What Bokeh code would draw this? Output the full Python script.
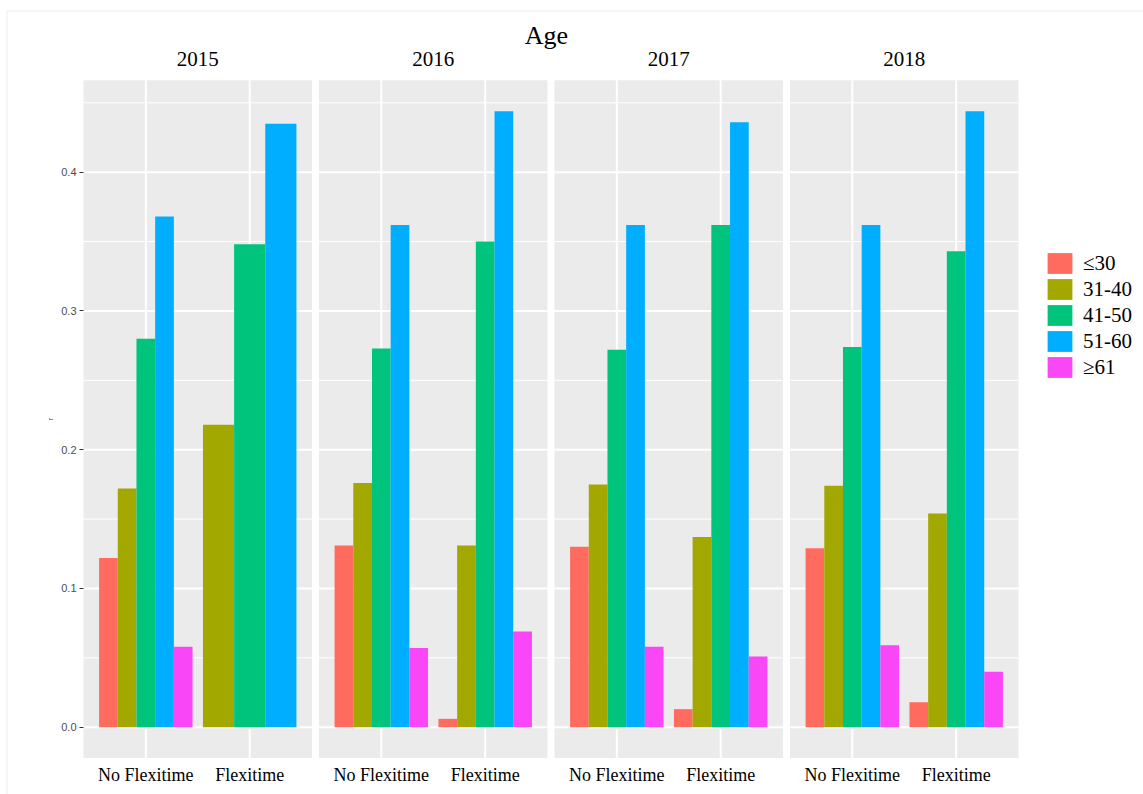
import math
from bokeh.plotting import figure
from bokeh.models import (ColumnDataSource, LinearAxis, FixedTicker, Legend,
                          LegendItem, BoxAnnotation, Range1d)
from bokeh.core.properties import value
from bokeh.embed import file_html
from bokeh.resources import INLINE

# ---------------------------------------------------------------- data
years = ["2015", "2016", "2017", "2018"]
conditions = ["No Flexitime", "Flexitime"]
age_groups = ["≤30", "31-40", "41-50", "51-60", "≥61"]

# r per age group, ordered year by year: [No Flexitime, Flexitime] x 4 years
# (None = group absent in that cell)
r_le30 = [0.122, None, 0.131, 0.006, 0.130, 0.013, 0.129, 0.018]
r_31_40 = [0.172, 0.218, 0.176, 0.131, 0.175, 0.137, 0.174, 0.154]
r_41_50 = [0.280, 0.348, 0.273, 0.350, 0.272, 0.362, 0.274, 0.343]
r_51_60 = [0.368, 0.435, 0.362, 0.444, 0.362, 0.436, 0.362, 0.444]
r_ge61 = [0.058, None, 0.057, 0.069, 0.058, 0.051, 0.059, 0.040]
series = [r_le30, r_31_40, r_41_50, r_51_60, r_ge61]

y_ticks = [0.0, 0.1, 0.2, 0.3, 0.4]
y_tick_labels = ["0.0", "0.1", "0.2", "0.3", "0.4"]
y_minor = [0.05, 0.15, 0.25, 0.35, 0.45]

colors = ["#FF6B5E", "#A2A800", "#00C47C", "#00AEFF", "#F946F6"]

# ---------------------------------------------------------------- layout
W, H = 1143, 794
PANEL_LEFT_PX = 83.0
PANEL_W_PX = 228.5
GAP_PX = 7.0
X_PAD = 0.6                     # discrete-scale expansion on each side
DODGE = 0.9                     # total dodge width per category
PX = PANEL_W_PX / (len(conditions) - 1 + 2 * X_PAD)   # px per x unit
ZERO_PX = 726.7                 # screen y of r = 0
PY = 1387.5                     # px per unit of r


def xd(px):
    return (px - PANEL_LEFT_PX) / PX


def yd(py):
    return (ZERO_PX - py) / PY


panel_span = len(conditions) - 1 + 2 * X_PAD
gap = GAP_PX / PX
panel_left = [i * (panel_span + gap) for i in range(len(years))]

all_vals = [v for s in series for v in s if v is not None]
r_max = max(all_vals)
y_lo = -0.05 * r_max
y_hi = r_max + 0.05 * r_max

p = figure(width=W, height=H, output_backend="svg", toolbar_location=None,
           title_location=None, x_axis_location=None, y_axis_location=None,
           x_range=Range1d(xd(0), xd(W)), y_range=Range1d(yd(H), yd(0)),
           min_border_left=0, min_border_right=0, min_border_top=0,
           min_border_bottom=0)
p.grid.visible = False
p.outline_line_color = None
p.background_fill_color = "white"
p.border_fill_color = "white"

# panel backgrounds
p.quad(left=panel_left, right=[l + panel_span for l in panel_left],
       bottom=[y_lo] * len(years), top=[y_hi] * len(years),
       fill_color="#EBEBEB", line_color=None)

# grid lines inside each panel
gx0, gx1, gy0, gy1 = [], [], [], []
for l in panel_left:
    for v in y_minor:
        if v < y_hi:
            gx0.append(l); gx1.append(l + panel_span); gy0.append(v); gy1.append(v)
p.segment(x0=gx0, x1=gx1, y0=gy0, y1=gy1, line_color="white", line_width=1)

mx0, mx1, my0, my1 = [], [], [], []
for l in panel_left:
    for v in y_ticks:
        mx0.append(l); mx1.append(l + panel_span); my0.append(v); my1.append(v)
    for j in range(len(conditions)):
        c = l + X_PAD + j
        mx0.append(c); mx1.append(c); my0.append(y_lo); my1.append(y_hi)
p.segment(x0=mx0, x1=mx1, y0=my0, y1=my1, line_color="white", line_width=2)

# dodged bars
bar_data = {g: {"x": [], "top": [], "w": []} for g in age_groups}
for i in range(len(years)):
    for j in range(len(conditions)):
        cell = i * len(conditions) + j
        present = [k for k in range(len(age_groups)) if series[k][cell] is not None]
        w = DODGE / len(present)
        for rank, k in enumerate(present):
            cx = panel_left[i] + X_PAD + j - DODGE / 2 + (rank + 0.5) * w
            d = bar_data[age_groups[k]]
            d["x"].append(cx); d["top"].append(series[k][cell]); d["w"].append(w)

renderers = []
for k, g in enumerate(age_groups):
    src = ColumnDataSource(bar_data[g])
    r = p.vbar(x="x", top="top", width="w", bottom=0, source=src,
               fill_color=colors[k], line_color=None)
    renderers.append(r)

# axes
y_axis = LinearAxis(fixed_location=0.0, ticker=FixedTicker(ticks=y_ticks),
                    major_label_overrides=dict(zip(y_ticks, y_tick_labels)))
y_axis.axis_line_color = None
y_axis.major_tick_in = 0
y_axis.major_tick_out = 4
y_axis.major_tick_line_color = "#333333"
y_axis.minor_tick_line_color = None
y_axis.major_label_text_font = "Liberation Sans"
y_axis.major_label_text_font_size = "11px"
y_axis.major_label_text_color = "#4D4D4D"
y_axis.major_label_standoff = 3
p.add_layout(y_axis, "left")

# y-axis title, centred on the panels
p.text(x=[xd(50)], y=[(y_lo + y_hi) / 2], text=["r"], angle=math.pi / 2,
       text_align="center", text_baseline="middle",
       text_font=value("Liberation Sans"), text_font_size="7px",
       text_color="#333333")

x_ticks, x_labels = [], []
for l in panel_left:
    for j, c in enumerate(conditions):
        x_ticks.append(l + X_PAD + j)
        x_labels.append(c)
x_axis = LinearAxis(fixed_location=y_lo, ticker=FixedTicker(ticks=x_ticks),
                    major_label_overrides=dict(zip(x_ticks, x_labels)))
x_axis.axis_line_color = None
x_axis.major_tick_in = 0
x_axis.major_tick_out = 0
x_axis.minor_tick_line_color = None
x_axis.major_label_text_font = "Liberation Serif"
x_axis.major_label_text_font_size = "18px"
x_axis.major_label_text_color = "black"
x_axis.major_label_standoff = 7
p.add_layout(x_axis, "below")

# title and facet strips
p.text(x=[xd(546)], y=[yd(35)], text=["Age"], text_align="center",
       text_baseline="middle", text_font=value("Liberation Serif"),
       text_font_size="26px", text_color="black")
p.text(x=[l + panel_span / 2 for l in panel_left], y=[yd(58)] * len(years),
       text=years, text_align="center", text_baseline="middle",
       text_font=value("Liberation Serif"), text_font_size="21px",
       text_color="black")

# legend
legend = Legend(items=[LegendItem(label=g, renderers=[r])
                       for g, r in zip(age_groups, renderers)],
                location=(1044, 414), orientation="vertical",
                glyph_width=31, glyph_height=26, label_height=26, spacing=0,
                label_standoff=8, padding=0, margin=0,
                border_line_color=None, background_fill_alpha=0)
legend.label_text_font = "Liberation Serif"
legend.label_text_font_size = "21px"
legend.label_text_color = "black"
p.add_layout(legend)

# light frame round the figure
p.add_layout(BoxAnnotation(left=xd(6.5), top=yd(10.5), right=xd(W + 20),
                           bottom=yd(H + 20), fill_alpha=0,
                           line_color="#D6D6D6", line_width=1.5))

open("out.html", "w").write(file_html(p, INLINE))
